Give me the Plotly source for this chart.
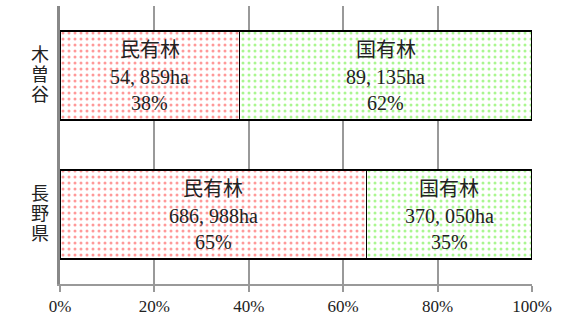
import plotly.graph_objects as go

regions = ["木曽谷", "長野県"]
private_ha = [54859, 686988]
national_ha = [89135, 370050]
private_name = "民有林"
national_name = "国有林"
x_ticks = [0, 0.2, 0.4, 0.6, 0.8, 1.0]
x_ticklabels = ["0%", "20%", "40%", "60%", "80%", "100%"]

totals = [p + n for p, n in zip(private_ha, national_ha)]
priv_share = [p / t for p, t in zip(private_ha, totals)]
nat_share = [n / t for n, t in zip(national_ha, totals)]

FONT = "Liberation Serif, Noto Sans CJK JP, serif"

fig = go.Figure()
fig.add_bar(
    y=regions, x=priv_share, orientation="h", name=private_name, width=0.64,
    marker=dict(color="white", line=dict(color="black", width=1.3),
                pattern=dict(shape=".", fgcolor="#ff3333", bgcolor="white",
                             size=6, solidity=0.2)),
)
fig.add_bar(
    y=regions, x=nat_share, orientation="h", name=national_name, width=0.64,
    marker=dict(color="white", line=dict(color="black", width=1.3),
                pattern=dict(shape=".", fgcolor="#55ee22", bgcolor="white",
                             size=6, solidity=0.2)),
)

annotations = []
shifts = [26, -1, -27]
for i, r in enumerate(regions):
    segs = [
        (private_name, private_ha[i], priv_share[i], priv_share[i] / 2),
        (national_name, national_ha[i], nat_share[i], priv_share[i] + nat_share[i] / 2),
    ]
    for name, ha, share, xc in segs:
        lines = [name, f"{ha:,}ha".replace(",", ", "), f"{round(share * 100):.0f}%"]
        for k, txt in enumerate(lines):
            annotations.append(dict(
                x=xc, y=r, xref="x", yref="y", text=txt, showarrow=False,
                yshift=shifts[k], font=dict(family=FONT, size=20, color="#222"),
            ))
    # vertical category label, one character per line
    for k, ch in enumerate(r):
        annotations.append(dict(
            x=0, y=r, xref="paper", yref="y", text=ch, showarrow=False,
            xshift=-31, yshift=20 * (1 - k) + 1,
            font=dict(family=FONT, size=18, color="#222"),
        ))

fig.update_layout(
    barmode="stack", width=566, height=318, showlegend=False,
    plot_bgcolor="white", paper_bgcolor="white",
    margin=dict(l=60, r=34, t=6, b=34, autoexpand=False),
    annotations=annotations,
    font=dict(family=FONT, color="#222"),
)
fig.update_xaxes(
    range=[0, 1], tickvals=x_ticks, ticktext=x_ticklabels, automargin=False,
    showgrid=True, gridcolor="#999", gridwidth=2,
    ticks="outside", ticklen=6, tickcolor="#999", tickwidth=2,
    showline=True, linecolor="#999", linewidth=2,
    tickfont=dict(family=FONT, size=17, color="#222"), zeroline=False,
)
fig.update_yaxes(
    range=[1.5, -0.5], tickvals=regions, showticklabels=False, automargin=False,
    showgrid=False, showline=True, linecolor="#888", linewidth=3, ticks="",
)

fig.write_html("out.html", config={"displayModeBar": False},
               post_script="document.body.style.margin='0';document.body.style.overflow='hidden';")
